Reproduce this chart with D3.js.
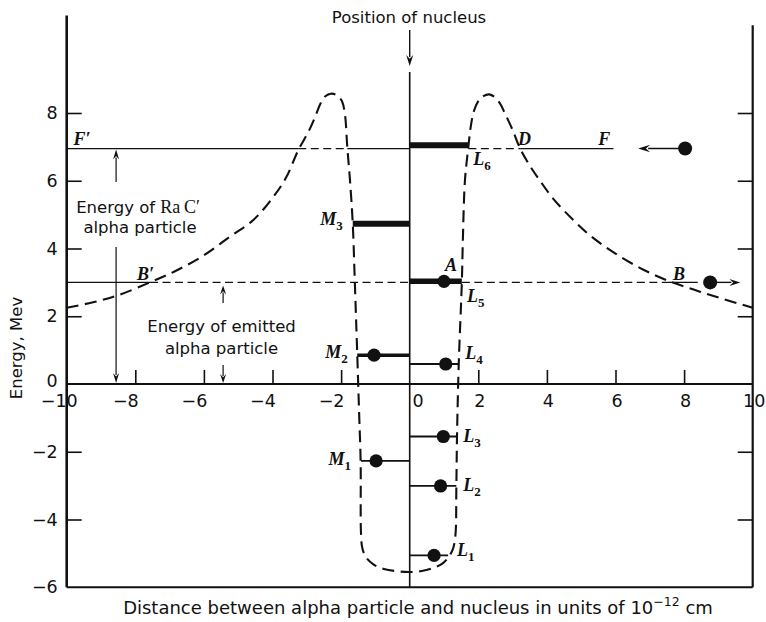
<!DOCTYPE html>
<html><head><meta charset="utf-8">
<script src="https://cdn.jsdelivr.net/npm/d3@7"></script>
<style>body{margin:0;background:#fff}svg{display:block}</style>
</head><body>
<svg id="chart" width="766" height="622"></svg>
<script>
// ---------------- data ----------------
const xTickValues = [-10, -8, -6, -4, -2, 0, 2, 4, 6, 8, 10];
const xInnerTicks = [-8, -6, -4, -2, 2, 4, 6, 8];
const yTickValues = [8, 6, 4, 2, 0, -2, -4, -6];
const yInnerTicks = [8, 6, 4, 2, -2, -4];

// potential-energy curve (dashed), read along the path from x=-10 to x=+10
const wellX = [-10, -9.2, -8.5, -7.57, -6.8, -6.0, -5.24, -4.56, -3.98, -3.6, -3.25, -2.95, -2.75, -2.6, -2.45, -2.3, -2.13, -1.98, -1.89, -1.82, -1.74, -1.66, -1.6, -1.53, -1.47, -1.43, -1.42, -1.38, -1.27, -1.05, -0.75, -0.35, 0, 0.35, 0.68, 0.95, 1.1, 1.25, 1.33, 1.36, 1.38, 1.43, 1.52, 1.55, 1.61, 1.71, 1.78, 1.87, 2.0, 2.15, 2.32, 2.5, 2.65, 2.78, 3.0, 3.22, 3.5, 3.8, 4.2, 4.77, 5.3, 6.0, 6.8, 7.53, 8.3, 9.1, 10];
const wellE = [2.25, 2.42, 2.62, 3.0, 3.35, 3.8, 4.35, 4.84, 5.52, 6.1, 6.9, 7.45, 7.9, 8.28, 8.5, 8.57, 8.53, 8.36, 7.98, 7.0, 6.0, 4.73, 3.0, 0.9, -1.0, -2.3, -4.4, -4.85, -5.12, -5.33, -5.46, -5.53, -5.55, -5.52, -5.43, -5.3, -5.15, -4.9, -4.5, -3.0, -1.5, 0.6, 3.0, 4.25, 6.0, 7.0, 7.6, 8.05, 8.35, 8.5, 8.55, 8.45, 8.25, 7.98, 7.5, 6.95, 6.45, 6.0, 5.45, 4.84, 4.35, 3.85, 3.38, 3.05, 2.78, 2.52, 2.25];

// energy levels
const levelNames  = ["L6", "M3", "L5", "M2", "L4", "L3", "M1", "L2", "L1"];
const levelEnergy = [7.05, 4.73, 3.03, 0.85, 0.59, -1.55, -2.27, -3.01, -5.06];
const levelFrom   = [0, -1.66, 0, -1.53, 0, 0, -1.42, 0, 0];
const levelTo     = [1.71, 0, 1.52, 0, 1.43, 1.37, 0, 1.36, 1.12];
const levelDotX   = [null, null, 1.0, -1.04, 1.05, 0.98, -0.98, 0.9, 0.71];

// alpha-particle energies and crossing points
const racEnergy = 6.95;          // F'F line
const racCrossLeft = -3.25, racWallLeft = -1.82, racWallRight = 1.71, racCrossRight = 3.22, racLineEnd = 5.94;
const emitEnergy = 3.0;          // B'B line
const emitCrossLeft = -7.57, emitWallRight = 1.52, emitCrossRight = 7.53, emitSolidEnd = 8.4;
const incomingDotX = 8.03, incomingArrowTip = 6.66;
const outgoingDotX = 8.76, outgoingArrowTip = 9.64;

// ---------------- layout ----------------
const svg = d3.select("#chart");
const x = d3.scaleLinear().domain([-10, 10]).range([66.7, 752.7]);
const y = d3.scaleLinear().domain([0, 8]).range([384, 113]);
const SANS = "DejaVu Sans";
const SERIF = "Liberation Serif";
const INK = "#111";

const minus = d => d < 0 ? "\u2212" + Math.abs(d) : String(d);

// frame lines
const frame = svg.append("g").attr("stroke", INK).attr("fill", "none");
frame.append("line").attr("x1", x(-10)).attr("x2", x(-10)).attr("y1", y(10.88)).attr("y2", y(-6)).attr("stroke-width", 2.6);
frame.append("line").attr("x1", x(10)).attr("x2", x(10)).attr("y1", y(10.59)).attr("y2", y(-6)).attr("stroke-width", 2.2);
frame.append("line").attr("x1", x(-10)).attr("x2", x(10)).attr("y1", y(0)).attr("y2", y(0)).attr("stroke-width", 2.2);
frame.append("line").attr("x1", x(-10)).attr("x2", x(10)).attr("y1", y(-6)).attr("y2", y(-6)).attr("stroke-width", 2.2);

// left axis: inward ticks + labels
const leftAxis = svg.append("g").attr("transform", `translate(${x(-10)},0)`)
  .call(d3.axisLeft(y).tickValues(yTickValues).tickSizeInner(-15).tickSizeOuter(0).tickPadding(9).tickFormat(minus));
leftAxis.select(".domain").remove();
leftAxis.selectAll(".tick line").attr("stroke", INK).attr("stroke-width", 1.6)
  .filter(d => d === 0 || d === -6).remove();
leftAxis.selectAll(".tick text").attr("font-family", SANS).attr("font-size", 17.5).attr("fill", INK)
  .attr("dy", d => d === 0 ? "0.12em" : "0.32em");

// right axis: inward ticks only
const rightAxis = svg.append("g").attr("transform", `translate(${x(10)},0)`)
  .call(d3.axisRight(y).tickValues(yInnerTicks).tickSizeInner(-15).tickSizeOuter(0).tickFormat(""));
rightAxis.select(".domain").remove();
rightAxis.selectAll(".tick line").attr("stroke", INK).attr("stroke-width", 1.6);

// x axis on E=0: upward ticks
const xTicksG = svg.append("g").attr("transform", `translate(0,${y(0)})`)
  .call(d3.axisBottom(x).tickValues(xInnerTicks).tickSizeInner(-14).tickSizeOuter(0).tickFormat(""));
xTicksG.select(".domain").remove();
xTicksG.selectAll(".tick line").attr("stroke", INK).attr("stroke-width", 1.6);

// x labels
const xLabels = svg.append("g").attr("transform", `translate(0,${y(0)})`)
  .call(d3.axisBottom(x).tickValues(xTickValues).tickSize(0).tickPadding(11).tickFormat(minus));
xLabels.select(".domain").remove();
xLabels.selectAll(".tick text").attr("font-family", SANS).attr("font-size", 17.5).attr("fill", INK)
  .attr("dx", d => d < 0 ? (d === -10 ? -8 : -10) : (d === 0 ? 8 : 1));

// nucleus line + arrow
svg.append("line").attr("x1", x(0)).attr("x2", x(0)).attr("y1", y(9.21)).attr("y2", y(-6))
  .attr("stroke", INK).attr("stroke-width", 1.6);

function arrow(x1, y1, x2, y2, len = 10, half = 3.5, w = 1.3) {
  const a = Math.atan2(y2 - y1, x2 - x1);
  const bx = x2 - len * Math.cos(a), by = y2 - len * Math.sin(a);
  svg.append("line").attr("x1", x1).attr("y1", y1).attr("x2", bx + 2 * Math.cos(a)).attr("y2", by + 2 * Math.sin(a))
    .attr("stroke", INK).attr("stroke-width", w);
  const px = -Math.sin(a) * half, py = Math.cos(a) * half;
  svg.append("path").attr("d", `M${x2},${y2}L${bx + px},${by + py}L${bx + 0.35 * len * Math.cos(a)},${by + 0.35 * len * Math.sin(a)}L${bx - px},${by - py}Z`)
    .attr("fill", INK);
}
arrow(x(0), 30, x(0), 66, 11, 3.5, 1.4);

// potential curve
const wellLine = d3.line().x((d, i) => x(wellX[i])).y((d, i) => y(wellE[i])).curve(d3.curveCatmullRom.alpha(0.5));
svg.append("path").attr("d", wellLine(wellX)).attr("fill", "none").attr("stroke", INK)
  .attr("stroke-width", 2.1).attr("stroke-dasharray", "12,6.5");

// horizontal energy lines
function hline(e, a, b, dashed) {
  svg.append("line").attr("x1", x(a)).attr("x2", x(b)).attr("y1", y(e)).attr("y2", y(e))
    .attr("stroke", INK).attr("stroke-width", 1.3).attr("stroke-dasharray", dashed ? "8,4.5" : null);
}
hline(racEnergy, -10, racCrossLeft, false);
hline(racEnergy, racCrossLeft, racWallLeft, true);
hline(racEnergy, racWallLeft, 0, false);
hline(racEnergy, racWallRight, racCrossRight, true);
hline(racEnergy, racCrossRight, racLineEnd, false);

hline(emitEnergy, -10, emitCrossLeft, false);
hline(emitEnergy, emitCrossLeft, 0, true);
hline(emitEnergy, emitWallRight, emitCrossRight, true);
hline(emitEnergy, emitCrossRight, emitSolidEnd, false);

// energy levels
const thick = {L6: 6, M3: 6, L5: 5.5, M2: 3.5};
levelNames.forEach((n, i) => {
  svg.append("line").attr("x1", x(levelFrom[i])).attr("x2", x(levelTo[i]))
    .attr("y1", y(levelEnergy[i])).attr("y2", y(levelEnergy[i]))
    .attr("stroke", INK).attr("stroke-width", thick[n] || 1.8);
  if (levelDotX[i] !== null) {
    svg.append("circle").attr("cx", x(levelDotX[i])).attr("cy", y(levelEnergy[i])).attr("r", 6.6).attr("fill", INK);
  }
});

// incoming / outgoing alpha particles
svg.append("circle").attr("cx", x(incomingDotX)).attr("cy", y(racEnergy)).attr("r", 7).attr("fill", INK);
arrow(x(incomingDotX) - 4, y(racEnergy), x(incomingArrowTip), y(racEnergy), 12, 3.8, 1.5);
svg.append("circle").attr("cx", x(outgoingDotX)).attr("cy", y(emitEnergy)).attr("r", 7).attr("fill", INK);
arrow(x(outgoingDotX) + 4, y(emitEnergy), x(outgoingArrowTip), y(emitEnergy), 11, 3.5, 1.4);

// vertical energy arrows
const racArrowX = -8.56, emitArrowX = -5.44;
arrow(x(racArrowX), 182, x(racArrowX), y(racEnergy) + 1, 10, 3, 1.2);
arrow(x(racArrowX), 247, x(racArrowX), y(0) - 1, 10, 3, 1.2);
arrow(x(emitArrowX), 303, x(emitArrowX), y(emitEnergy) + 3, 9, 3, 1.2);
arrow(x(emitArrowX), 365, x(emitArrowX), y(0) - 1, 9, 3, 1.2);

// ---------------- text ----------------
function txt(s, px, py, opts = {}) {
  return svg.append("text").attr("x", px).attr("y", py).attr("font-family", opts.family || SANS)
    .attr("font-size", opts.size || 16.5).attr("fill", INK).attr("text-anchor", opts.anchor || "middle").text(s);
}
txt("Position of nucleus", 409, 23);

const t1 = txt("Energy of ", 138, 213);
t1.append("tspan").attr("font-family", SERIF).attr("font-size", 18).text("Ra\u2009C\u2032");
txt("alpha particle", 140, 233);
txt("Energy of emitted", 221.5, 332);
txt("alpha particle", 221.5, 354);

svg.append("text").attr("transform", "translate(22,348) rotate(-90)").attr("text-anchor", "middle")
  .attr("font-family", SANS).attr("font-size", 16.5).attr("fill", INK).text("Energy, Mev");

const xt = txt("Distance between alpha particle and nucleus in units of 10", 418, 614, {anchor: "middle", size: 18});
xt.append("tspan").attr("dy", -8).attr("font-size", 12.5).text("\u221212");
xt.append("tspan").attr("dy", 8).text(" cm");

// italic letter labels
function lab(main, sub, xv, ev) {
  const t = svg.append("text").attr("x", x(xv)).attr("y", y(ev)).attr("font-family", SERIF)
    .attr("font-style", "italic").attr("font-weight", "bold").attr("font-size", 18).attr("fill", INK).text(main);
  if (sub) t.append("tspan").attr("dy", 5).attr("font-size", 13).attr("font-style", "normal").text(sub);
}
lab("F\u2032", null, -9.8, 7.05);
lab("F", null, 5.5, 7.05);
lab("D", null, 3.16, 7.05);
lab("L", "6", 1.85, 6.47);
lab("B\u2032", null, -7.95, 3.07);
lab("B", null, 7.68, 3.07);
lab("A", null, 1.03, 3.33);
lab("L", "5", 1.67, 2.42);
lab("L", "4", 1.62, 0.74);
lab("M", "3", -2.61, 4.69);
lab("M", "2", -2.46, 0.77);
lab("M", "1", -2.37, -2.39);
lab("L", "3", 1.56, -1.71);
lab("L", "2", 1.56, -3.16);
lab("L", "1", 1.38, -5.07);
</script>
</body></html>
